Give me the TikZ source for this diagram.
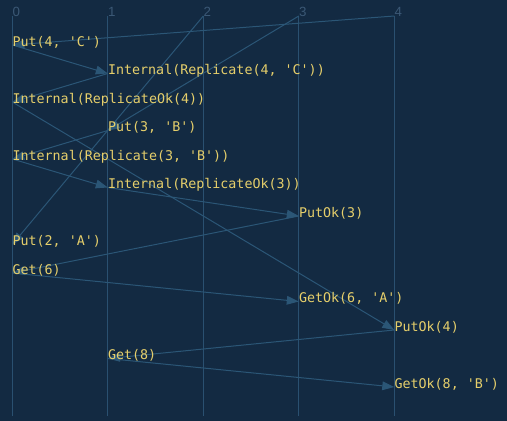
\documentclass[tikz,border=0pt]{standalone}
\usepackage{fontspec}
\setmonofont{DejaVu Sans Mono}
\setsansfont{Liberation Sans}
\usetikzlibrary{arrows.meta}
\definecolor{bgnavy}{HTML}{132A42}
\definecolor{lanecol}{HTML}{2A5070}
\definecolor{msgcol}{HTML}{2B5676}
\definecolor{evtext}{HTML}{E6CF6B}
\definecolor{lanelabel}{HTML}{3B5875}
\tikzset{
  lane/.style={draw=lanecol, line width=0.75pt},
  msg/.style={draw=msgcol, line width=0.75pt, -{Triangle[length=9pt,width=6.5pt]}},
  event/.style={anchor=base west, inner sep=0pt, yshift=-0.75pt, text=evtext, font=\ttfamily\fontsize{10}{12}\selectfont},
  lanenum/.style={anchor=base west, inner sep=0pt, text=lanelabel, font=\sffamily\fontsize{10}{12}\selectfont}
}

\begin{document}
\begin{tikzpicture}[x=0.75pt, y=-0.75pt]
        \fill[bgnavy] (0,0) rectangle (507,421);
        \useasboundingbox (0,0) rectangle (507,421);
        % lanes
        \coordinate (top0) at (12.3,16);   \coordinate (bot0) at (12.3,416);
        \coordinate (top1) at (107.8,16);  \coordinate (bot1) at (107.8,416);
        \coordinate (top2) at (203.3,16);  \coordinate (bot2) at (203.3,416);
        \coordinate (top3) at (298.8,16);  \coordinate (bot3) at (298.8,416);
        \coordinate (top4) at (394.3,16);  \coordinate (bot4) at (394.3,416);
        \draw[lane] (top0) -- (bot0);
        \draw[lane] (top1) -- (bot1);
        \draw[lane] (top2) -- (bot2);
        \draw[lane] (top3) -- (bot3);
        \draw[lane] (top4) -- (bot4);
        \node[lanenum] (lab0) at (12.3,16.5) {0};
        \node[lanenum] (lab1) at (107.8,16.5) {1};
        \node[lanenum] (lab2) at (203.3,16.5) {2};
        \node[lanenum] (lab3) at (298.8,16.5) {3};
        \node[lanenum] (lab4) at (394.3,16.5) {4};
        % events
        \coordinate (put4c) at (12.3,45);
        \coordinate (rep4c) at (107.8,73.5);
        \coordinate (repok4) at (12.3,102);
        \coordinate (put3b) at (107.8,130.5);
        \coordinate (rep3b) at (12.3,159);
        \coordinate (repok3) at (107.8,187.5);
        \coordinate (putok3) at (298.8,216);
        \coordinate (put2a) at (12.3,244.5);
        \coordinate (get6) at (12.3,273);
        \coordinate (getok6a) at (298.8,301.5);
        \coordinate (putok4) at (394.3,330);
        \coordinate (get8) at (107.8,358.5);
        \coordinate (getok8b) at (394.3,387);
        % messages
        \draw[msg] (top4) -- (put4c);
        \draw[msg] (put4c) -- (rep4c);
        \draw[msg] (rep4c) -- (repok4);
        \draw[msg] (top3) -- (put3b);
        \draw[msg] (put3b) -- (rep3b);
        \draw[msg] (rep3b) -- (repok3);
        \draw[msg] (repok3) -- (putok3);
        \draw[msg] (top2) -- (put2a);
        \draw[msg] (putok3) -- (get6);
        \draw[msg] (get6) -- (getok6a);
        \draw[msg] (repok4) -- (putok4);
        \draw[msg] (putok4) -- (get8);
        \draw[msg] (get8) -- (getok8b);
        % labels
        \node[event] (t-put4c) at (put4c) {Put(4, 'C')};
        \node[event] (t-rep4c) at (rep4c) {Internal(Replicate(4, 'C'))};
        \node[event] (t-repok4) at (repok4) {Internal(ReplicateOk(4))};
        \node[event] (t-put3b) at (put3b) {Put(3, 'B')};
        \node[event] (t-rep3b) at (rep3b) {Internal(Replicate(3, 'B'))};
        \node[event] (t-repok3) at (repok3) {Internal(ReplicateOk(3))};
        \node[event] (t-putok3) at (putok3) {PutOk(3)};
        \node[event] (t-put2a) at (put2a) {Put(2, 'A')};
        \node[event] (t-get6) at (get6) {Get(6)};
        \node[event] (t-getok6a) at (getok6a) {GetOk(6, 'A')};
        \node[event] (t-putok4) at (putok4) {PutOk(4)};
        \node[event] (t-get8) at (get8) {Get(8)};
        \node[event] (t-getok8b) at (getok8b) {GetOk(8, 'B')};
\end{tikzpicture}
\end{document}
